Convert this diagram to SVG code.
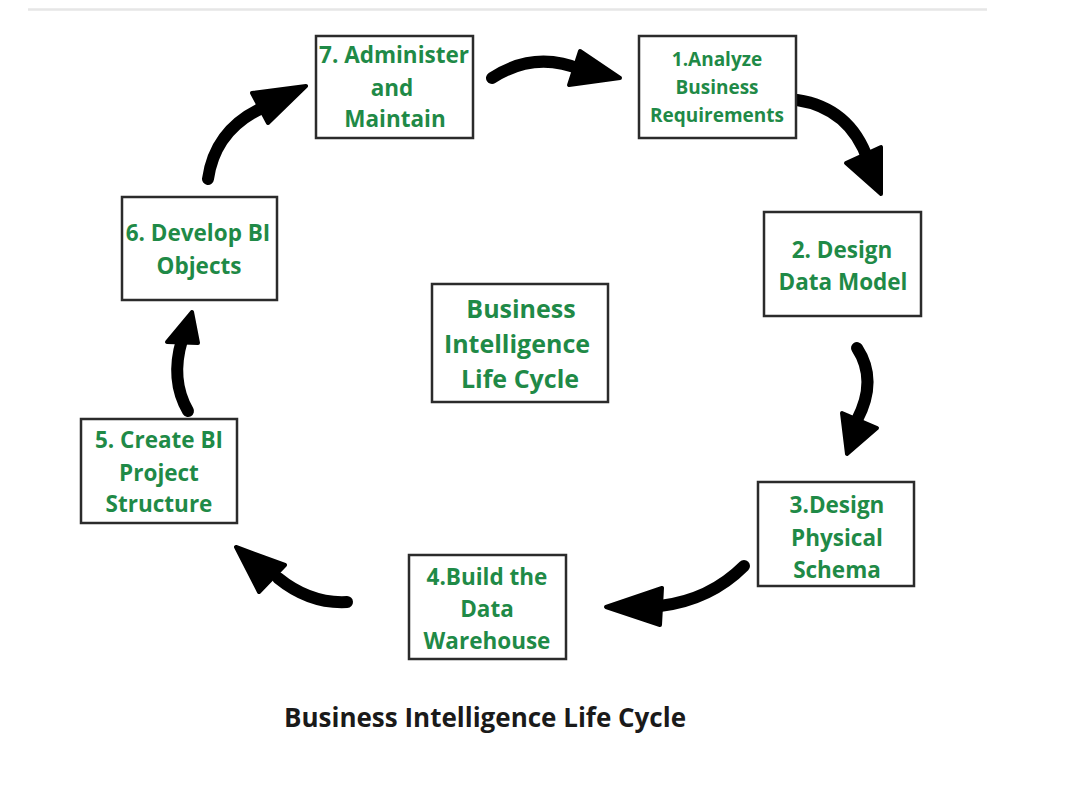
<svg xmlns="http://www.w3.org/2000/svg" width="1079" height="807" viewBox="0 0 1079 807">
<style>
.box{fill:#fff;stroke:#2b2b2b;stroke-width:2.5}
.t{font-family:"Open Sans","Liberation Sans",sans-serif;font-weight:bold;fill:#1f8a47;text-anchor:middle}
.s{font-size:22.5px}
.sm{font-size:19px}
.c{font-size:25px}
.arr{fill:none;stroke:#000;stroke-width:12;stroke-linecap:round}
.hd{fill:#000;stroke:#000;stroke-width:4;stroke-linejoin:round}
</style>
<rect width="1079" height="807" fill="#fff"/>
<line x1="28" y1="9.5" x2="987" y2="9.5" stroke="#e6e6e6" stroke-width="2.5"/>
<g id="connectors">
<path class="arr" d="M492,78 Q535,50 582,70"/>
<polygon class="hd" points="620,78 580,51 569,85"/>
<path class="arr" d="M797,100 Q850,108 868,160"/>
<polygon class="hd" points="881,194 846,163 881,147"/>
<path class="arr" d="M857,348 Q878,380 857,420"/>
<polygon class="hd" points="847,454 842,413 877,428"/>
<path class="arr" d="M744,566 Q710,600 660,606"/>
<polygon class="hd" points="606,607 662,588 660,625"/>
<path class="arr" d="M347,602 Q310,604 278,578"/>
<polygon class="hd" points="236,547 285,565 259,592"/>
<path class="arr" d="M188,411 Q170,380 182,340"/>
<polygon class="hd" points="192,312 167,342 198,343"/>
<path class="arr" d="M208,179 Q215,130 262,108"/>
<polygon class="hd" points="306,86 252,93 268,123"/>
</g>
<g id="node7">
<rect class="box" x="316" y="36" width="157" height="102"/>
<text class="t s" x="394" y="63">7. Administer</text>
<text class="t s" x="392" y="96">and</text>
<text class="t s" x="395" y="127">Maintain</text>
</g>
<g id="node1">
<rect class="box" x="639" y="36" width="157" height="102"/>
<text class="t sm" x="717" y="66">1.Analyze</text>
<text class="t sm" x="717" y="94">Business</text>
<text class="t sm" x="717" y="122">Requirements</text>
</g>
<g id="node2">
<rect class="box" x="764" y="212" width="157" height="104"/>
<text class="t s" x="842" y="258">2. Design</text>
<text class="t s" x="843" y="290">Data Model</text>
</g>
<g id="node3">
<rect class="box" x="758" y="482" width="156" height="104"/>
<text class="t s" x="837" y="513">3.Design</text>
<text class="t s" x="837" y="546">Physical</text>
<text class="t s" x="837" y="578">Schema</text>
</g>
<g id="node4">
<rect class="box" x="409" y="555" width="157" height="104"/>
<text class="t s" x="487" y="585">4.Build the</text>
<text class="t s" x="487" y="617">Data</text>
<text class="t s" x="487" y="649">Warehouse</text>
</g>
<g id="node5">
<rect class="box" x="81" y="419" width="156" height="104"/>
<text class="t s" x="159" y="448">5. Create BI</text>
<text class="t s" x="159" y="481">Project</text>
<text class="t s" x="159" y="512">Structure</text>
</g>
<g id="node6">
<rect class="box" x="122" y="197" width="155" height="103"/>
<text class="t s" x="198" y="241">6. Develop BI</text>
<text class="t s" x="199" y="274">Objects</text>
</g>
<g id="center">
<rect class="box" x="432" y="284" width="176" height="118"/>
<text class="t c" x="521" y="318">Business</text>
<text class="t c" x="517" y="353">Intelligence</text>
<text class="t c" x="520" y="388">Life Cycle</text>
</g>
<text x="485" y="727" font-family="'Open Sans','Liberation Sans',sans-serif" font-weight="bold" font-size="26" fill="#1a1a1a" text-anchor="middle">Business Intelligence Life Cycle</text>
</svg>
